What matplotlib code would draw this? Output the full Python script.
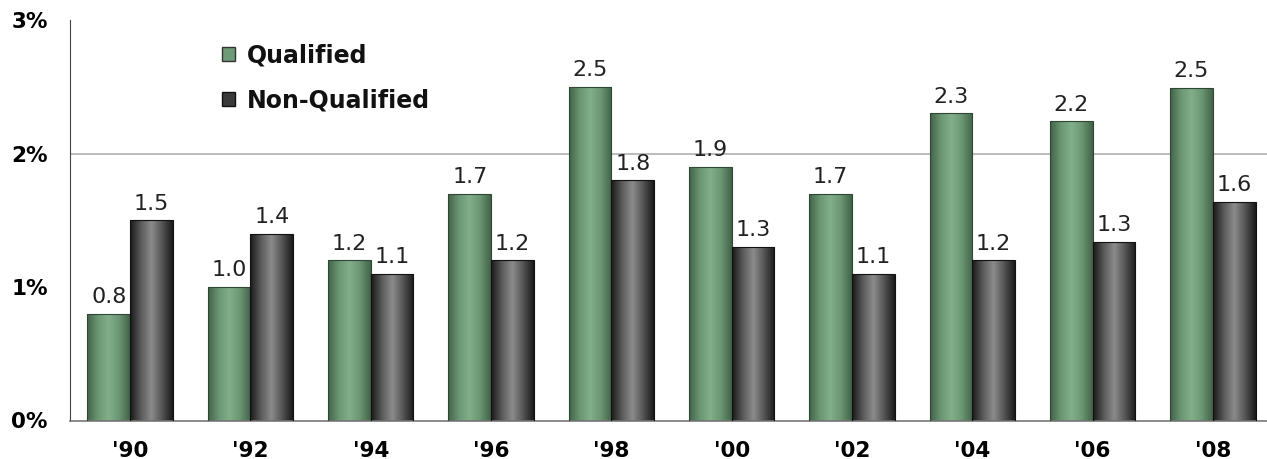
import numpy as np
import matplotlib.pyplot as plt
from matplotlib.colors import LinearSegmentedColormap
from matplotlib.patches import Patch

years = ["'90", "'92", "'94", "'96", "'98", "'00", "'02", "'04", "'06", "'08"]
qualified = [0.8, 1.0, 1.2, 1.7, 2.5, 1.9, 1.7, 2.3, 2.24, 2.49]
non_qualified = [1.5, 1.4, 1.1, 1.2, 1.8, 1.3, 1.1, 1.2, 1.34, 1.64]

green_cmap = LinearSegmentedColormap.from_list(
    "g", ["#44634a", "#6b9673", "#82b08a", "#6b9673", "#44634a"])
dark_cmap = LinearSegmentedColormap.from_list(
    "d", ["#1a1a1a", "#5a5a5a", "#8c8c8c", "#555555", "#1a1a1a"])

fig = plt.figure(figsize=(12.67, 4.59), dpi=100)
ax = fig.add_axes([70 / 1267, 1 - 420.5 / 459, 1 - 70 / 1267, (420.5 - 20) / 459])

x = np.arange(len(years))
w = 0.355
grad = np.linspace(0, 1, 64).reshape(1, -1)


def shaded_bars(xs, vals, cmap, edge):
    bars = ax.bar(xs, vals, width=w, color="none", edgecolor=edge, linewidth=0.8, zorder=3)
    for b in bars:
        x0, y0 = b.get_x(), b.get_y()
        im = ax.imshow(grad, cmap=cmap, aspect="auto", zorder=2,
                       extent=(x0, x0 + b.get_width(), y0, y0 + b.get_height()))
        im.set_clip_path(b)
    return bars


b1 = shaded_bars(x - w / 2, qualified, green_cmap, "#2e4632")
b2 = shaded_bars(x + w / 2, non_qualified, dark_cmap, "#111111")

for bars, vals in ((b1, qualified), (b2, non_qualified)):
    for b, v in zip(bars, vals):
        ax.text(b.get_x() + b.get_width() / 2, v + 0.05, f"{v:.1f}",
                ha="center", va="bottom", fontsize=16, color="#222222")

ax.set_xlim(-0.5, 9.45)
ax.set_ylim(0, 3)
ax.set_yticks([0, 1, 2, 3])
ax.set_yticklabels(["0%", "1%", "2%", "3%"], fontsize=15.5, fontweight="bold")
ax.set_xticks(x)
ax.set_xticklabels(years, fontsize=15.5, fontweight="bold")
ax.tick_params(axis="both", length=0)
ax.tick_params(axis="x", pad=15)
ax.tick_params(axis="y", pad=16)
ax.axhline(2, color="#b0b0b0", linewidth=1.2, zorder=1)

for s in ("top", "right"):
    ax.spines[s].set_visible(False)
ax.spines["left"].set_color("#444444")
ax.spines["bottom"].set_color("#777777")
ax.spines["bottom"].set_linewidth(1.2)

handles = [Patch(facecolor="#6f9a77", edgecolor="#333333", label="Qualified"),
           Patch(facecolor="#3a3a3a", edgecolor="#111111", label="Non-Qualified")]
leg = ax.legend(handles=handles, loc="upper left", bbox_to_anchor=(201 / 1267, 1 - 22 / 459),
                bbox_transform=fig.transFigure, frameon=False,
                prop={"size": 17, "weight": "bold"}, handlelength=0.55, handleheight=0.55,
                handletextpad=0.5, labelspacing=0.9)
for t in leg.get_texts():
    t.set_color("#111111")

fig.savefig("out.png", dpi=100)
